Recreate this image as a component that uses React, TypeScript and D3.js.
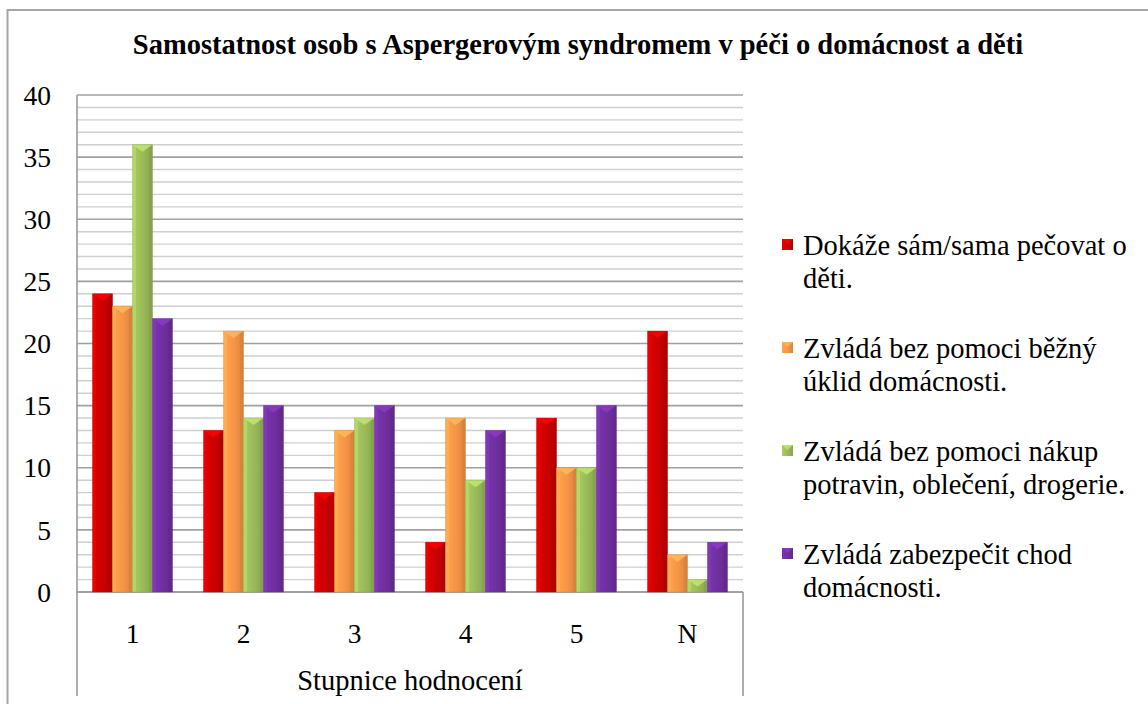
import React from "react";
import * as d3 from "d3";

const title = "Samostatnost osob s Aspergerovým syndromem v péči o domácnost a děti";
const categories = ["1", "2", "3", "4", "5", "N"];
const seriesNames = [
  ["Dokáže sám/sama pečovat o", "děti."],
  ["Zvládá bez pomoci běžný", "úklid domácnosti."],
  ["Zvládá bez pomoci nákup", "potravin, oblečení, drogerie."],
  ["Zvládá zabezpečit chod", "domácnosti."],
];
const careForChildren = [24, 13, 8, 4, 14, 21];
const cleaning = [23, 21, 13, 14, 10, 3];
const shopping = [36, 14, 14, 9, 10, 1];
const runHousehold = [22, 15, 15, 13, 15, 4];
const seriesValues = [careForChildren, cleaning, shopping, runHousehold];
const colors = ["#CC0000", "#F79646", "#9BBB59", "#7030A0"];
const yTicks = [0, 5, 10, 15, 20, 25, 30, 35, 40];
const xTitle = "Stupnice hodnocení";

const W = 1148;
const H = 704;
const plot = { left: 77, right: 743, top: 95, bottom: 592 };
const serif = "'Liberation Serif', 'Times New Roman', Times, serif";
const FS = 28.5;

export default function App() {
  const y = d3.scaleLinear().domain([0, 40]).range([plot.bottom, plot.top]);
  const x0 = d3
    .scaleBand<string>()
    .domain(categories)
    .range([plot.left, plot.right])
    .paddingInner(0.28)
    .paddingOuter(0.14);
  const x1 = d3
    .scaleBand<number>()
    .domain(d3.range(seriesValues.length))
    .range([0, x0.bandwidth()]);
  const minor = d3.range(0, 41, 1);

  const bar = (xPos: number, w: number, v: number, si: number, key: string) => {
    const top = y(v);
    const h = plot.bottom - top;
    const c = d3.color(colors[si])!;
    const light = c.brighter(0.6).formatHex();
    const dark = c.darker(0.5).formatHex();
    const edge = Math.min(w * 0.18, 4);
    const tri = Math.min(w * 0.35, h);
    return (
      <g key={key}>
        <rect x={xPos} y={top} width={w} height={h} fill={`url(#grad${si})`} />
        <rect x={xPos} y={top} width={edge} height={h} fill={light} opacity={0.45} />
        <rect x={xPos + w - edge} y={top} width={edge} height={h} fill={dark} opacity={0.5} />
        {h > 2 && (
          <polygon
            points={`${xPos},${top} ${xPos + w},${top} ${xPos + w / 2},${top + tri}`}
            fill={light}
            opacity={0.85}
          />
        )}
        <rect x={xPos} y={top} width={w} height={h} fill="none" stroke={dark} strokeOpacity={0.35} strokeWidth={0.8} />
      </g>
    );
  };

  const txt = { fontFamily: serif };

  return (
    <svg
      width={W}
      height={H}
      style={{ position: "fixed", left: 0, top: 0, background: "#fff", fontFamily: serif }}
    >
      <defs>
        {colors.map((col, i) => {
          const c = d3.color(col)!;
          return (
            <linearGradient id={`grad${i}`} key={i} x1="0" x2="1" y1="0" y2="0">
              <stop offset="0" stopColor={c.brighter(0.25).formatHex()} />
              <stop offset="0.5" stopColor={col} />
              <stop offset="1" stopColor={c.darker(0.35).formatHex()} />
            </linearGradient>
          );
        })}
      </defs>
      <rect x={0} y={0} width={W} height={H} fill="#fff" />
      <rect x={7.5} y={10} width={W + 20} height={H + 20} fill="none" stroke="#a6a6a6" strokeWidth={2} />

      <text x={578} y={54} textAnchor="middle" fontWeight="bold" fontSize={FS} fill="#000" style={txt}>
        {title}
      </text>

      {minor.map((v) => (
        <line
          key={`m${v}`}
          x1={plot.left}
          x2={plot.right}
          y1={y(v)}
          y2={y(v)}
          stroke={v % 5 === 0 ? "#a0a0a0" : "#cfcfcf"}
          strokeWidth={v % 5 === 0 ? 1.6 : 1.4}
        />
      ))}

      <line x1={plot.left} x2={plot.left} y1={plot.top} y2={696} stroke="#9a9a9a" strokeWidth={1.6} />
      <line x1={plot.right} x2={plot.right} y1={plot.bottom} y2={696} stroke="#9a9a9a" strokeWidth={1.6} />
      <line x1={plot.left} x2={plot.right} y1={plot.bottom} y2={plot.bottom} stroke="#9a9a9a" strokeWidth={1.6} />

      {yTicks.map((t) => (
        <text key={`yt${t}`} x={51} y={y(t)} dy="0.35em" textAnchor="end" fontSize={FS - 1} fill="#000" style={txt}>
          {t}
        </text>
      ))}

      {categories.map((cat, ci) =>
        seriesValues.map((vals, si) =>
          bar(x0(cat)! + x1(si)!, x1.bandwidth(), vals[ci], si, `b${ci}-${si}`)
        )
      )}

      {categories.map((cat) => (
        <text
          key={`xt${cat}`}
          x={x0(cat)! + x0.bandwidth() / 2}
          y={633}
          dy="0.35em"
          textAnchor="middle"
          fontSize={FS - 1}
          fill="#000"
          style={txt}
        >
          {cat}
        </text>
      ))}

      <text x={410} y={680} dy="0.35em" textAnchor="middle" fontSize={FS} fill="#000" style={txt}>
        {xTitle}
      </text>

      {seriesNames.map((lines, i) => {
        const ly = 245 + i * 103;
        return (
          <g key={`lg${i}`}>
            <rect x={782} y={ly - 6} width={11} height={11} fill={`url(#grad${i})`} />
            <polygon
              points={`${782},${ly - 6} ${793},${ly - 6} ${787.5},${ly - 1}`}
              fill={d3.color(colors[i])!.brighter(0.6).formatHex()}
              opacity={0.8}
            />
            {lines.map((ln, k) => (
              <text key={k} x={803} y={ly + k * 33} dy="0.35em" fontSize={FS} fill="#000" style={txt}>
                {ln}
              </text>
            ))}
          </g>
        );
      })}
    </svg>
  );
}
